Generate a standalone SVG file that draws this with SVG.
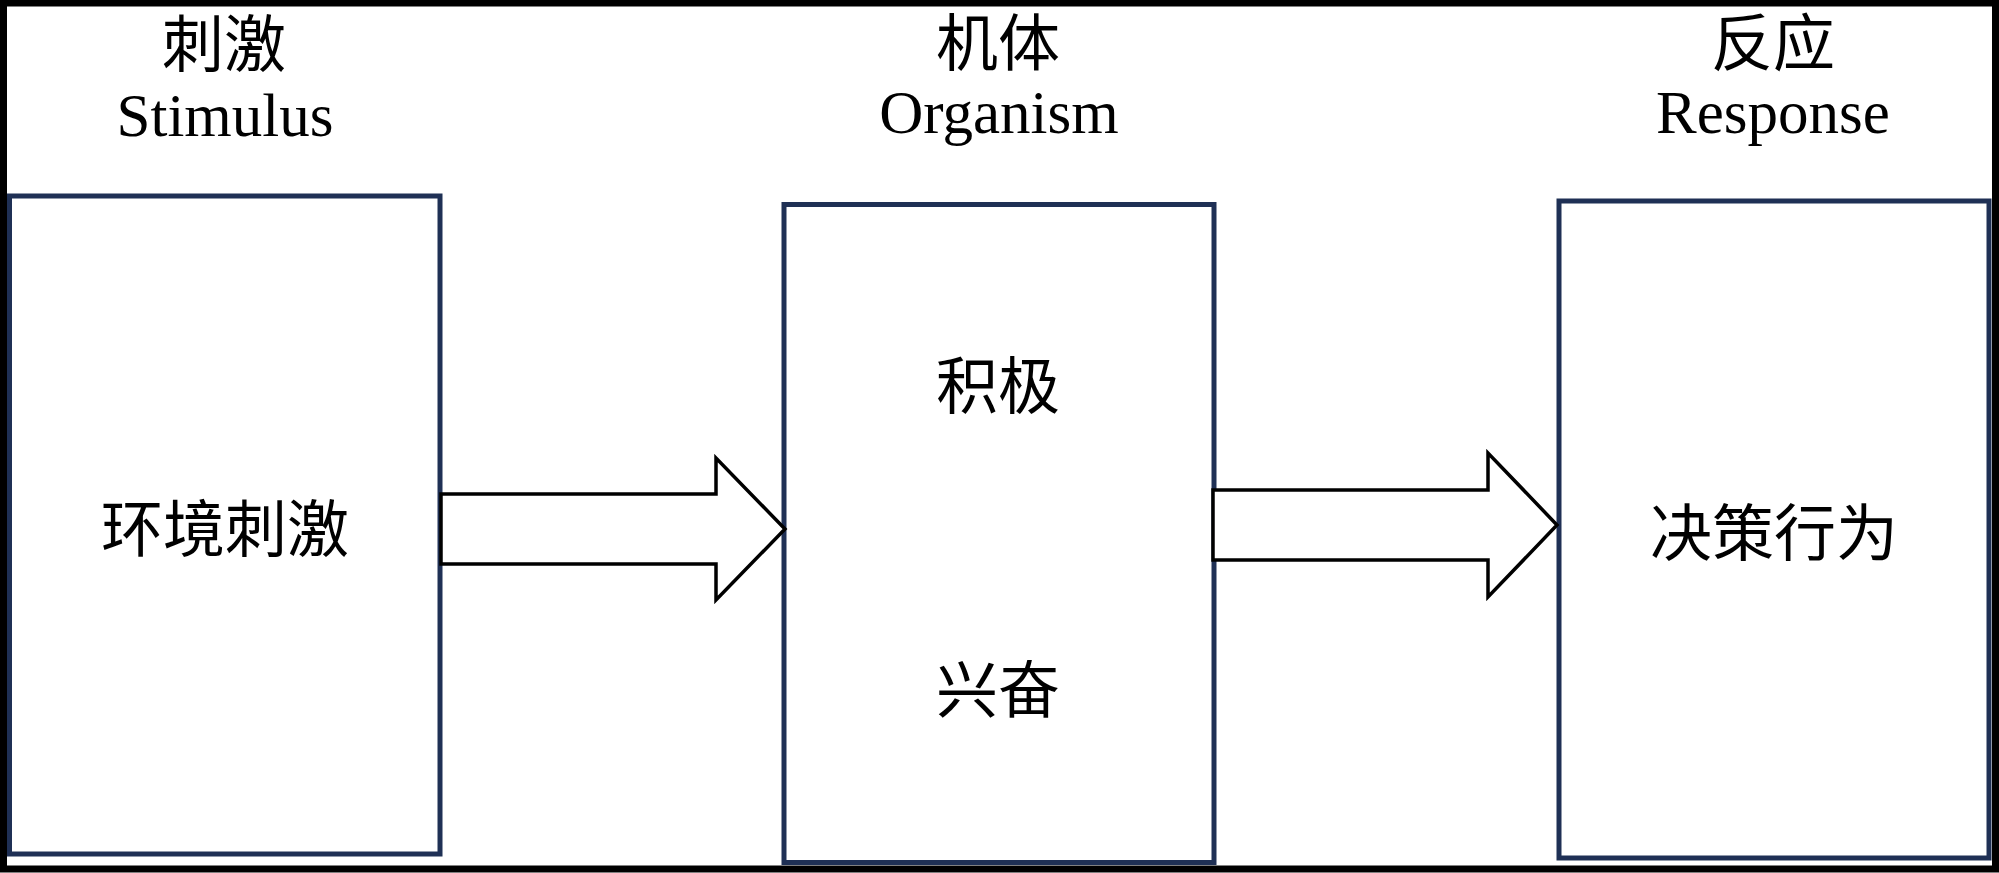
<svg xmlns="http://www.w3.org/2000/svg" width="1999" height="873" viewBox="0 0 1999 873">
<style>
.bg{fill:#ffffff}
.frame{fill:none;stroke:#000000;stroke-width:7}
.box{fill:#ffffff;stroke:#1f3055;stroke-width:5}
.arrow{fill:#ffffff;stroke:#000000;stroke-width:3.5;stroke-linejoin:miter}
.t{font-family:"Liberation Serif","Noto Sans CJK SC",serif;font-size:61px;fill:#000000;text-anchor:middle}
.h{font-family:"Liberation Serif","Noto Sans CJK SC",serif;font-size:62px;fill:#000000;text-anchor:middle}
.c{font-family:"Noto Sans CJK SC","Liberation Serif",sans-serif;font-size:62px;fill:#000000;text-anchor:middle;font-weight:400}
</style>
<rect class="bg" x="0" y="0" width="1999" height="873"/>
<rect class="frame" x="3.5" y="3" width="1992" height="866"/>
<g id="header-stimulus">
<text class="h" x="224" y="67">刺激</text>
<text class="t" x="225" y="136">Stimulus</text>
</g>
<g id="header-organism">
<text class="h" x="998" y="66">机体</text>
<text class="t" x="999" y="133">Organism</text>
</g>
<g id="header-response">
<text class="h" x="1773" y="66">反应</text>
<text class="t" x="1773" y="133">Response</text>
</g>
<g id="node-stimulus">
<rect class="box" x="9.5" y="196" width="430.5" height="658"/>
<text class="c" x="225" y="552">环境刺激</text>
</g>
<g id="node-organism">
<rect class="box" x="784" y="204.5" width="430" height="658"/>
<text class="c" x="998" y="409">积极</text>
<text class="c" x="998" y="713">兴奋</text>
</g>
<g id="node-response">
<rect class="box" x="1559" y="201" width="430" height="657"/>
<text class="c" x="1774" y="556">决策行为</text>
</g>
<g id="connectors">
<polygon class="arrow" points="441,494 716,494 716,458 785,529 716,600 716,564 441,564"/>
<polygon class="arrow" points="1213,490 1488,490 1488,453 1557,525 1488,597 1488,560 1213,560"/>
</g>
</svg>
